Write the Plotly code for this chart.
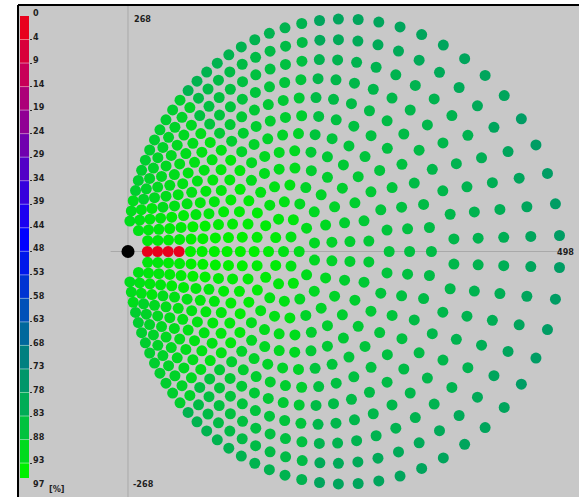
import numpy as np
import plotly.graph_objects as go

# ---------------- data ----------------
# Test grid: concentric rings of stimulus points (fraction of the field radius),
# number of points on each ring, and the half-width of the gap left around fixation.
ring_radius = [0.077, 0.154, 0.231, 0.308, 0.385, 0.462, 0.538, 0.615, 0.692, 0.769, 0.846, 0.923, 1.0]
ring_points = [6, 13, 19, 25, 31, 38, 44, 50, 57, 63, 69, 75, 81]
ring_gap_deg = [0, 0, 0, 0, 0, 0, 0, 0, 0, 0, 0, 6, 10]

# Response [%] per ring, by direction (0 = right ... 180 = toward fixation)
sector_deg = [0, 45, 90, 135, 180]
sector_pct = [
    [91, 92, 93, 94, 94],
    [90, 91, 93, 94, 95],
    [89, 90, 92, 94, 95],
    [88, 89, 92, 94, 95],
    [87, 88, 91, 94, 95],
    [86, 87, 90, 93, 95],
    [85, 86, 89, 93, 95],
    [84, 85, 88, 92, 94],
    [83, 84, 87, 92, 94],
    [82, 83, 86, 91, 93],
    [81, 82, 85, 90, 93],
    [79, 80, 84, 89, 92],
    [77, 79, 82, 88, 91],
]
center_pct = 92

# Points on the fixation meridian with no response
scotoma_rings = [8, 9, 10, 11]
scotoma_pct = [0, 0, 0, 0]

# Fixation target
fixation_x = [0]
fixation_y = [0]

# Colour key
pct_labels = [0, 4, 9, 14, 19, 24, 29, 34, 39, 44, 48, 53, 58, 63, 68, 73, 78, 83, 88, 93, 97]
band_colors = ["#e8001c", "#d8003a", "#c80058", "#ac0078", "#900094", "#7000ae", "#5200c6",
               "#3600dc", "#1c00f0", "#0000ff", "#0018ea", "#0034d2", "#0050b8", "#00689c",
               "#008080", "#00966a", "#00ac56", "#00c23e", "#00da1e", "#00f000"]

axis_y_max = 268
axis_x_max = 498

# ---------------- geometry ----------------
W, H = 579, 497
PX_PER_UNIT = 0.8675
X0_PX, Y0_PX = 128.0, 251.5
x_range = [-X0_PX / PX_PER_UNIT, (W - X0_PX) / PX_PER_UNIT]
y_range = [-(H - Y0_PX) / PX_PER_UNIT, Y0_PX / PX_PER_UNIT]

FIELD_CX, FIELD_RX, FIELD_RY = 249.0, 249.0, 268.0
WARP = -0.28


def project(rho, theta_deg):
    """Map a grid position (ring fraction, angle) onto the displayed field."""
    z = rho * np.exp(1j * np.deg2rad(theta_deg))
    w = (z + WARP) / (1 + WARP * z)
    return FIELD_CX + FIELD_RX * w.real, FIELD_RY * w.imag


xs, ys, vals = [], [], []
cx, cy = project(0.0, 0.0)
xs.append(cx); ys.append(cy); vals.append(center_pct)
for i, (rho, n, gap) in enumerate(zip(ring_radius, ring_points, ring_gap_deg)):
    ring_no = i + 1
    for j in range(n):
        th = 180.0 + 360.0 * j / n
        phi = abs(((th + 180.0) % 360.0) - 180.0)      # 0..180, measured from the right
        off = 180.0 - phi                               # distance from the fixation side
        if gap and off < gap:
            continue
        if ring_no in scotoma_rings and off < 1e-6:
            v = scotoma_pct[scotoma_rings.index(ring_no)]
        else:
            v = sector_pct[i][int(round(phi / 45.0))]
        px, py = project(rho, th)
        xs.append(px); ys.append(py); vals.append(v)

# continuous colour scale built from the key bands
cs = [[0.0, band_colors[0]]]
for k, c in enumerate(band_colors):
    mid = (pct_labels[k] + pct_labels[k + 1]) / 2.0
    cs.append([mid / 97.0, c])
cs.append([1.0, band_colors[-1]])

fig = go.Figure()

fig.add_trace(go.Scatter(
    x=xs, y=ys, mode="markers",
    marker=dict(size=11, color=vals, colorscale=cs, cmin=0, cmax=97, line=dict(width=0)),
    hoverinfo="skip", showlegend=False))

fig.add_trace(go.Scatter(
    x=fixation_x, y=fixation_y, mode="markers",
    marker=dict(size=13, color="black"), hoverinfo="skip", showlegend=False))

# colour key bar
n_band = len(band_colors)
band_base = list(range(n_band))
band_height = [1.0] * (n_band - 1) + [0.64]
fig.add_trace(go.Bar(
    x=[0] * n_band, y=band_height, base=band_base, width=1.0,
    marker=dict(color=band_colors, line=dict(width=0)),
    xaxis="x2", yaxis="y2", hoverinfo="skip", showlegend=False))

# light separators across the key
sep_x, sep_y = [], []
for k in range(1, n_band):
    sep_x += [-0.5, 0.5, None]
    sep_y += [k, k, None]
fig.add_trace(go.Scatter(
    x=sep_x, y=sep_y, mode="lines", line=dict(color="rgba(255,255,255,0.45)", width=1),
    xaxis="x2", yaxis="y2", hoverinfo="skip", showlegend=False))

lbl_font = dict(family="DejaVu Sans Condensed, Liberation Sans Narrow, DejaVu Sans",
                size=9, color="#1e1e1e", weight="bold")

annotations = []
for k, lab in enumerate(pct_labels):
    annotations.append(dict(x=31 / W, xref="paper", xanchor="left", y=k - 0.12, yref="y2",
                            yanchor="middle", text=str(lab), showarrow=False, font=lbl_font))
annotations.append(dict(x=47 / W, xref="paper", xanchor="left", y=1 - 489 / H, yref="paper",
                        yanchor="middle", text="[%]", showarrow=False, font=lbl_font))
annotations.append(dict(x=5, y=axis_y_max, xanchor="left", yanchor="middle",
                        text=str(axis_y_max), showarrow=False, font=lbl_font))
annotations.append(dict(x=3, y=-axis_y_max, xanchor="left", yanchor="middle",
                        text=str(-axis_y_max), showarrow=False, font=lbl_font))
annotations.append(dict(x=(W - 3) / W, xref="paper", y=0, xanchor="right", yanchor="middle",
                        text=str(axis_x_max), showarrow=False, font=lbl_font))

top = 1 - 5 / H
shapes = [
    dict(type="rect", xref="paper", yref="paper", x0=18 / W, x1=1.0, y0=0, y1=top,
         fillcolor="#c8c8c8", line=dict(width=0), layer="below"),
    dict(type="line", xref="x", yref="paper", x0=0, x1=0, y0=0, y1=top,
         line=dict(color="#a9a9a9", width=1), layer="below"),
    dict(type="line", xref="x", yref="y", x0=-20, x1=axis_x_max, y0=0, y1=0,
         line=dict(color="#a9a9a9", width=1), layer="below"),
    dict(type="line", xref="paper", yref="paper", x0=18 / W, x1=1.0, y0=top, y1=top,
         line=dict(color="black", width=2)),
    dict(type="line", xref="paper", yref="paper", x0=18 / W, x1=18 / W, y0=0, y1=top,
         line=dict(color="black", width=2)),
]

u_top = -16 / 23.53
u_bot = (H - 16) / 23.53

fig.update_layout(
    width=W, height=H, margin=dict(l=0, r=0, t=0, b=0),
    paper_bgcolor="white", plot_bgcolor="rgba(0,0,0,0)",
    barmode="overlay", bargap=0,
    xaxis=dict(domain=[0, 1], range=x_range, visible=False, fixedrange=True),
    yaxis=dict(domain=[0, 1], range=y_range, visible=False, fixedrange=True),
    xaxis2=dict(domain=[20 / W, 29 / W], range=[-0.5, 0.5], visible=False,
                anchor="y2", fixedrange=True),
    yaxis2=dict(domain=[0, 1], range=[u_bot, u_top], anchor="x2", side="right",
                showgrid=False, zeroline=False, showline=False, showticklabels=False,
                ticks="outside", ticklen=2, tickcolor="#303030",
                tickvals=list(range(1, n_band)), fixedrange=True),
    shapes=shapes, annotations=annotations,
)

fig.write_html("out.html")
